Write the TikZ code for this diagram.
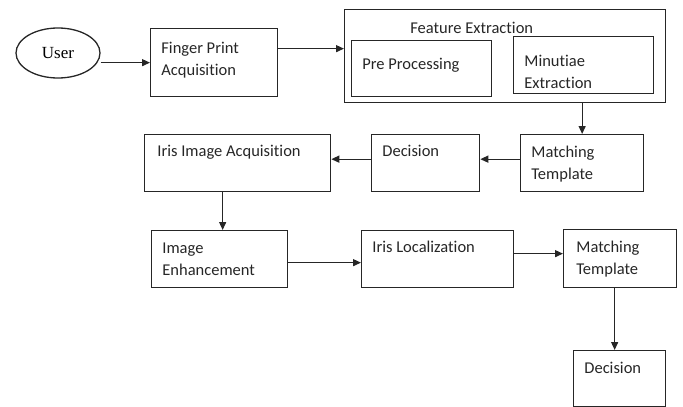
\documentclass[tikz,border=0pt]{standalone}
\usepackage{fontspec}
\setmainfont{Carlito}[Ligatures=NoCommon]
\newfontfamily\userfont{Liberation Serif}
\usetikzlibrary{shapes.geometric}
\usetikzlibrary{arrows.meta}

\begin{document}
\begin{tikzpicture}[x=1pt, y=-1pt, thick,
    box/.style={draw=black!85, line width=1.3pt, anchor=north west, inner sep=0pt},
    txt/.style={anchor=north west, align=left, inner sep=0pt, xshift=11pt, yshift=-8pt,
        font=\fontsize{16.5}{22}\selectfont, text=black!85},
    arr/.style={-{Triangle[length=8pt, width=7pt]}, line width=1.3pt, black!85}]

    % page frame
    \useasboundingbox (0,0) rectangle (683,407);

    % user
    \node[ellipse, draw=black!85, line width=1.3pt, minimum width=84pt, minimum height=50pt,
        inner sep=0pt, font=\userfont\fontsize{17}{20}\selectfont] (user) at (58,53) {User};

    % finger print branch
    \node[box, minimum width=127pt, minimum height=68pt,
        label={[txt, yshift=-2pt]north west:{\strut Finger Print\\Acquisition}}] (finger) at (150,28) {};
    \node[box, minimum width=321pt, minimum height=93pt,
        label={[txt, xshift=55pt, yshift=-1pt]north west:{\strut Feature Extraction}}] (feature) at (344,9) {};
    \node[box, minimum width=140pt, minimum height=56pt,
        label={[txt, yshift=-6pt]north west:{\strut Pre Processing}}] (pre) at (351,40) {};
    \node[box, minimum width=140pt, minimum height=57pt,
        label={[txt, yshift=-7pt]north west:{\strut Minutiae\\Extraction}}] (minutiae) at (513,36) {};
    \node[box, minimum width=123pt, minimum height=57pt,
        label={[txt]north west:{\strut Matching\\Template}}] (match1) at (520,134) {};
    \node[box, minimum width=108pt, minimum height=57pt,
        label={[txt, yshift=1pt]north west:{\strut Decision}}] (decision1) at (371,134) {};

    % iris branch
    \node[box, minimum width=186pt, minimum height=57pt,
        label={[txt, xshift=2pt, yshift=1pt]north west:{\strut Iris Image Acquisition}}] (irisacq) at (144,134) {};
    \node[box, minimum width=136pt, minimum height=57pt,
        label={[txt]north west:{\strut Image\\Enhancement}}] (enhance) at (151,230) {};
    \node[box, minimum width=152pt, minimum height=57pt,
        label={[txt, yshift=1pt]north west:{\strut Iris Localization}}] (irisloc) at (361,230) {};
    \node[box, minimum width=113pt, minimum height=58pt,
        label={[txt, xshift=2pt]north west:{\strut Matching\\Template}}] (match2) at (563,229) {};
    \node[box, minimum width=92pt, minimum height=56pt,
        label={[txt]north west:{\strut Decision}}] (decision2) at (573,350) {};

    % connectors
    \draw[arr] (user.east |- finger.west) -- (finger.west);
    \draw[arr] ([yshift=14pt]finger.east) -- ([yshift=14pt]finger.east -| feature.west);
    \draw[arr] (feature.south -| match1.north) -- (match1.north);
    \draw[arr] ([yshift=4pt]match1.west) -- ([yshift=4pt]decision1.east);
    \draw[arr] ([yshift=4pt]decision1.west) -- ([yshift=4pt]irisacq.east);
    \draw[arr] ([xshift=3pt]enhance.north |- irisacq.south) -- ([xshift=3pt]enhance.north);
    \draw[arr] ([yshift=-3.5pt]enhance.east) -- ([yshift=-3.5pt]irisloc.west);
    \draw[arr] ([yshift=5.5pt]irisloc.east) -- ([yshift=5.5pt]irisloc.east -| match2.west);
    \draw[arr] ([xshift=-5.5pt]match2.south) -- ([xshift=-5.5pt]match2.south |- decision2.north);

\end{tikzpicture}
\end{document}
